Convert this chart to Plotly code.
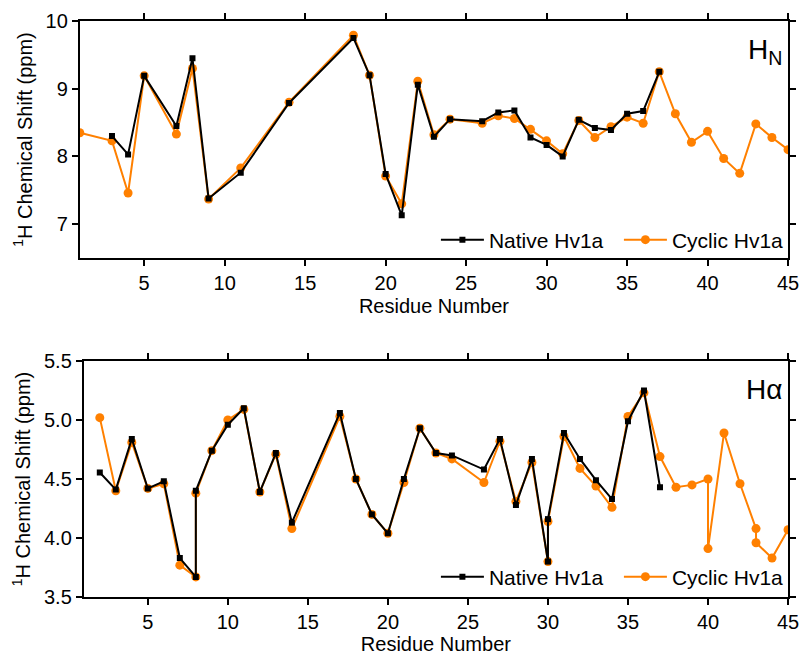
import plotly.graph_objects as go

# ---- H_N panel data ----
hn_native_res = [3, 4, 5, 7, 8, 9, 11, 14, 18, 19, 20, 21, 22, 23, 24, 26, 27, 28, 29, 30,
                 31, 32, 33, 34, 35, 36, 37]
hn_native_val = [8.30, 8.03, 9.19, 8.45, 9.45, 7.38, 7.76, 8.79, 9.75, 9.20, 7.74, 7.13, 9.06,
                 8.29, 8.55, 8.52, 8.65, 8.68, 8.28, 8.17, 8.00, 8.54, 8.42, 8.39, 8.63, 8.67, 9.25]

hn_cyclic_res = [1, 3, 4, 5, 7, 8, 9, 11, 14, 18, 19, 20, 21, 22, 23, 24, 26, 27, 28, 29, 30,
                 31, 32, 33, 34, 35, 36, 37, 38, 39, 40, 41, 42, 43, 44, 45]
hn_cyclic_val = [8.35, 8.23, 7.46, 9.19, 8.33, 9.30, 7.37, 7.83, 8.80, 9.79, 9.20, 7.71, 7.30,
                 9.11, 8.32, 8.55, 8.49, 8.60, 8.56, 8.40, 8.23, 8.04, 8.53, 8.28, 8.44, 8.58,
                 8.49, 9.25, 8.63, 8.21, 8.37, 7.97, 7.75, 8.48, 8.28, 8.10]

# ---- H_alpha panel data ----
ha_native_res = [2, 3, 4, 5, 6, 7, 8, 8, 9, 10, 11, 12, 13, 14, 17, 18, 19, 20, 21, 22, 23, 24,
                 26, 27, 28, 29, 30, 30, 31, 32, 33, 34, 35, 36, 37]
ha_native_val = [4.555, 4.41, 4.84, 4.42, 4.48, 3.83, 3.67, 4.40, 4.74, 4.96, 5.10, 4.39, 4.72,
                 4.13, 5.06, 4.50, 4.20, 4.04, 4.50, 4.93, 4.72, 4.70, 4.58, 4.84, 4.28, 4.67,
                 3.80, 4.16, 4.89, 4.67, 4.49, 4.33, 4.99, 5.25, 4.43]

ha_cyclic_res = [2, 3, 4, 5, 6, 7, 8, 8, 9, 10, 11, 12, 13, 14, 17, 18, 19, 20, 21, 22, 23, 24,
                 26, 27, 28, 29, 30, 30, 31, 32, 33, 34, 35, 36, 37, 38, 39, 40, 40, 41, 42,
                 43, 43, 44, 45]
ha_cyclic_val = [5.02, 4.40, 4.81, 4.42, 4.46, 3.77, 3.67, 4.38, 4.74, 5.00, 5.09, 4.39, 4.71,
                 4.08, 5.03, 4.50, 4.20, 4.04, 4.47, 4.93, 4.72, 4.67, 4.47, 4.82, 4.31, 4.64,
                 3.80, 4.14, 4.86, 4.59, 4.44, 4.26, 5.03, 5.23, 4.69, 4.43, 4.45, 4.50, 3.91,
                 4.89, 4.46, 4.08, 3.96, 3.83, 4.07]

x_ticks = [5, 10, 15, 20, 25, 30, 35, 40, 45]
hn_y_ticks = [7, 8, 9, 10]
ha_y_ticks = [3.5, 4.0, 4.5, 5.0, 5.5]

ORANGE = "#FF8000"
BLACK = "#000000"
FONT = "Liberation Sans, Arial, sans-serif"

W, H = 802, 655


def px_x(p):
    return p / W


def px_y(p):
    return 1 - p / H


fig = go.Figure()

# top panel
fig.add_trace(go.Scatter(x=hn_cyclic_res, y=hn_cyclic_val, mode="lines+markers", name="Cyclic Hv1a",
                         line=dict(color=ORANGE, width=2), marker=dict(symbol="circle", size=9, color=ORANGE),
                         xaxis="x", yaxis="y", legend="legend", legendrank=2))
fig.add_trace(go.Scatter(x=hn_native_res, y=hn_native_val, mode="lines+markers", name="Native Hv1a",
                         line=dict(color=BLACK, width=2), marker=dict(symbol="square", size=6, color=BLACK),
                         xaxis="x", yaxis="y", legend="legend", legendrank=1))
# bottom panel
fig.add_trace(go.Scatter(x=ha_cyclic_res, y=ha_cyclic_val, mode="lines+markers", name="Cyclic Hv1a",
                         line=dict(color=ORANGE, width=2), marker=dict(symbol="circle", size=9, color=ORANGE),
                         xaxis="x2", yaxis="y2", legend="legend2", legendrank=2))
fig.add_trace(go.Scatter(x=ha_native_res, y=ha_native_val, mode="lines+markers", name="Native Hv1a",
                         line=dict(color=BLACK, width=2), marker=dict(symbol="square", size=6, color=BLACK),
                         xaxis="x2", yaxis="y2", legend="legend2", legendrank=1))

axis_common = dict(showline=True, linecolor="black", linewidth=2, mirror="ticks", ticks="outside",
                   ticklen=6, tickwidth=2, tickcolor="black", showgrid=False, zeroline=False,
                   tickfont=dict(family=FONT, size=20, color="black"), automargin=False)

title_font = dict(family=FONT, size=20, color="black")
legend_common = dict(orientation="h", xanchor="left", yanchor="middle", bgcolor="rgba(0,0,0,0)",
                     entrywidth=125, entrywidthmode="pixels", itemwidth=43,
                     font=dict(family=FONT, size=21, color="black"))

fig.update_layout(
    width=W, height=H,
    margin=dict(l=0, r=0, t=0, b=0),
    paper_bgcolor="white", plot_bgcolor="white",
    font=dict(family=FONT, size=20, color="black"),
    xaxis=dict(domain=[px_x(80), px_x(790)], range=[1, 45], tickvals=x_ticks, anchor="y",
               title=dict(text="Residue Number", font=title_font, standoff=6), **axis_common),
    yaxis=dict(domain=[px_y(258), px_y(21)], range=[6.5, 10], tickvals=hn_y_ticks, anchor="x",
               title=dict(text="<sup>1</sup>H Chemical Shift (ppm)", font=title_font, standoff=8),
               **axis_common),
    xaxis2=dict(domain=[px_x(84), px_x(790)], range=[1, 45], tickvals=x_ticks, anchor="y2",
                title=dict(text="Residue Number", font=title_font, standoff=6), **axis_common),
    yaxis2=dict(domain=[px_y(597), px_y(361)], range=[3.5, 5.5], tickvals=ha_y_ticks,
                tickformat=".1f", anchor="x2",
                title=dict(text="<sup>1</sup>H Chemical Shift (ppm)", font=title_font, standoff=8),
                **axis_common),
    legend=dict(x=px_x(437), y=px_y(240), **legend_common),
    legend2=dict(x=px_x(437), y=px_y(577), **legend_common),
    annotations=[
        dict(text="H<sub>N</sub>", xref="paper", yref="paper", x=px_x(786), y=px_y(32),
             xanchor="right", yanchor="top", showarrow=False, font=dict(family=FONT, size=28, color="black")),
        dict(text="Hα", xref="paper", yref="paper", x=px_x(786), y=px_y(372),
             xanchor="right", yanchor="top", showarrow=False, font=dict(family=FONT, size=28, color="black")),
    ],
)

fig.write_html("out.html", config={"displayModeBar": False},
               post_script="document.body.style.margin='0';document.body.style.overflow='hidden';")
